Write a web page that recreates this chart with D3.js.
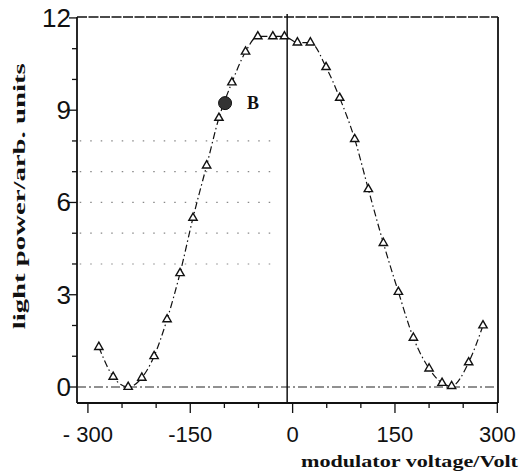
<!DOCTYPE html>
<html>
<head>
<meta charset="utf-8">
<script src="https://cdn.jsdelivr.net/npm/d3@7"></script>
<style>
  body { margin: 0; background: #fff; }
  svg { display: block; }
  .tick-num { font-family: "Liberation Sans Narrow", "Liberation Sans", sans-serif; fill: #111; }
  .title { font-family: "Liberation Serif", "DejaVu Serif", serif; font-weight: bold; fill: #111; }
</style>
</head>
<body>
<div id="chart"></div>
<script>
// measured points (modulator voltage in V, light power in arb. units)
const voltage = [-284, -263, -241, -221, -203, -184, -165, -146, -126, -108, -89, -69, -51, -29, -12,
                 7, 26, 49, 69, 91, 111, 133, 155, 177, 200, 219, 233, 258, 279];
const power   = [1.3, 0.33, 0.0, 0.3, 1.0, 2.2, 3.7, 5.5, 7.2, 8.75, 9.9, 10.9, 11.4, 11.4, 11.4,
                 11.2, 11.2, 10.4, 9.4, 8.06, 6.43, 4.68, 3.09, 1.6, 0.6, 0.13, 0.03, 0.8, 2.0];
const pointB = { v: -99, p: 9.23, label: "B" };

const xLabelTicks = [-300, -150, 0, 150, 300];
const xTickText = ["- 300", "-150", "0", "150", "300"];
const xMinorTicks = [-300, -250, -200, -150, -100, -50, 0, 50, 100, 150, 200, 250, 300];
const yLabelTicks = [0, 3, 6, 9, 12];
const yMinorTicks = [0, 1, 2, 3, 4, 5, 6, 7, 8, 9, 10, 11, 12];
const gridRows = [4, 5, 6, 7, 8];
const zeroVoltLine = -8;

const width = 523, height = 472;
const svg = d3.select("#chart").append("svg")
    .attr("width", width)
    .attr("height", height);

const x = d3.scaleLinear().domain([-316, 301]).range([77, 498]);
const y = d3.scaleLinear().domain([-0.52, 12.03]).range([403, 17]);

// faint dotted rows (scan residue of the original grid)
svg.append("g").selectAll("line")
    .data(gridRows)
    .enter().append("line")
    .attr("x1", x(-312)).attr("x2", x(-30))
    .attr("y1", d => y(d)).attr("y2", d => y(d))
    .attr("stroke", "#888")
    .attr("stroke-width", 1.2)
    .attr("stroke-dasharray", "1.5,9");

// frame
svg.append("line")
    .attr("x1", x.range()[0]).attr("x2", x.range()[1])
    .attr("y1", y.range()[1]).attr("y2", y.range()[1])
    .attr("stroke", "#111").attr("stroke-width", 1.6)
    .attr("stroke-dasharray", "10,1.5");
svg.append("line")
    .attr("x1", x.range()[0]).attr("x2", x.range()[1])
    .attr("y1", y.range()[0]).attr("y2", y.range()[0])
    .attr("stroke", "#111").attr("stroke-width", 1.8);
svg.append("line")
    .attr("x1", x.range()[0]).attr("x2", x.range()[0])
    .attr("y1", y.range()[0]).attr("y2", y.range()[1])
    .attr("stroke", "#111").attr("stroke-width", 1.8);
svg.append("line")
    .attr("x1", x.range()[1]).attr("x2", x.range()[1])
    .attr("y1", y.range()[0]).attr("y2", y.range()[1])
    .attr("stroke", "#111").attr("stroke-width", 1.8);

// zero reference lines
svg.append("line")
    .attr("x1", x.range()[0]).attr("x2", x.range()[1])
    .attr("y1", y(0)).attr("y2", y(0))
    .attr("stroke", "#222").attr("stroke-width", 1)
    .attr("stroke-dasharray", "9,3,2,3");
svg.append("line")
    .attr("x1", x(zeroVoltLine)).attr("x2", x(zeroVoltLine))
    .attr("y1", y.range()[1] - 3).attr("y2", y.range()[0])
    .attr("stroke", "#111").attr("stroke-width", 1.5);

// y axis
const yAxis = svg.append("g");
yAxis.selectAll("line")
    .data(yMinorTicks)
    .enter().append("line")
    .attr("x1", d => x.range()[0] - (yLabelTicks.includes(d) ? 8 : 5))
    .attr("x2", x.range()[0])
    .attr("y1", d => y(d)).attr("y2", d => y(d))
    .attr("stroke", "#111").attr("stroke-width", 1.3);
yAxis.selectAll("text")
    .data(yLabelTicks)
    .enter().append("text")
    .attr("class", "tick-num")
    .attr("x", x.range()[0] - 6)
    .attr("y", d => y(d) + 9)
    .attr("text-anchor", "end")
    .style("font-size", "26px")
    .text(d => d);

// x axis
const xAxis = svg.append("g");
xAxis.selectAll("line")
    .data(xMinorTicks)
    .enter().append("line")
    .attr("x1", d => x(d)).attr("x2", d => x(d))
    .attr("y1", y.range()[0])
    .attr("y2", d => y.range()[0] + (xLabelTicks.includes(d) ? 10 : 5))
    .attr("stroke", "#111").attr("stroke-width", 1.3);
xAxis.selectAll("text")
    .data(xLabelTicks)
    .enter().append("text")
    .attr("class", "tick-num")
    .attr("x", d => x(d))
    .attr("y", 442)
    .attr("text-anchor", "middle")
    .style("font-size", "22px")
    .text((d, i) => xTickText[i]);

// curve
const pts = voltage.map((v, i) => [v, power[i]]);
svg.append("path")
    .datum(pts)
    .attr("fill", "none")
    .attr("stroke", "#111")
    .attr("stroke-width", 1.2)
    .attr("stroke-dasharray", "7,3,1.5,3")
    .attr("d", d3.line().x(d => x(d[0])).y(d => y(d[1])).curve(d3.curveMonotoneX));

svg.append("g").selectAll("path")
    .data(pts)
    .enter().append("path")
    .attr("transform", d => `translate(${x(d[0])},${y(d[1])})`)
    .attr("d", d3.symbol().type(d3.symbolTriangle).size(30))
    .attr("fill", "#fff")
    .attr("stroke", "#111")
    .attr("stroke-width", 1.4);

// point B
svg.append("circle")
    .attr("cx", x(pointB.v)).attr("cy", y(pointB.p))
    .attr("r", 6.5)
    .attr("fill", "#333")
    .attr("stroke", "#111");
svg.append("text")
    .attr("class", "title")
    .attr("x", x(pointB.v) + 22)
    .attr("y", y(pointB.p) + 6)
    .style("font-size", "18px")
    .text(pointB.label);

// axis titles
svg.append("text")
    .attr("class", "title")
    .attr("transform", `translate(25,${y(6.2)}) rotate(-90)`)
    .attr("text-anchor", "middle")
    .style("font-size", "17px")
    .attr("textLength", 266)
    .attr("lengthAdjust", "spacingAndGlyphs")
    .text("light power/arb. units");
svg.append("text")
    .attr("class", "title")
    .attr("x", 518)
    .attr("y", 467)
    .attr("text-anchor", "end")
    .style("font-size", "17px")
    .attr("textLength", 217)
    .attr("lengthAdjust", "spacingAndGlyphs")
    .text("modulator voltage/Volt");
</script>
</body>
</html>
